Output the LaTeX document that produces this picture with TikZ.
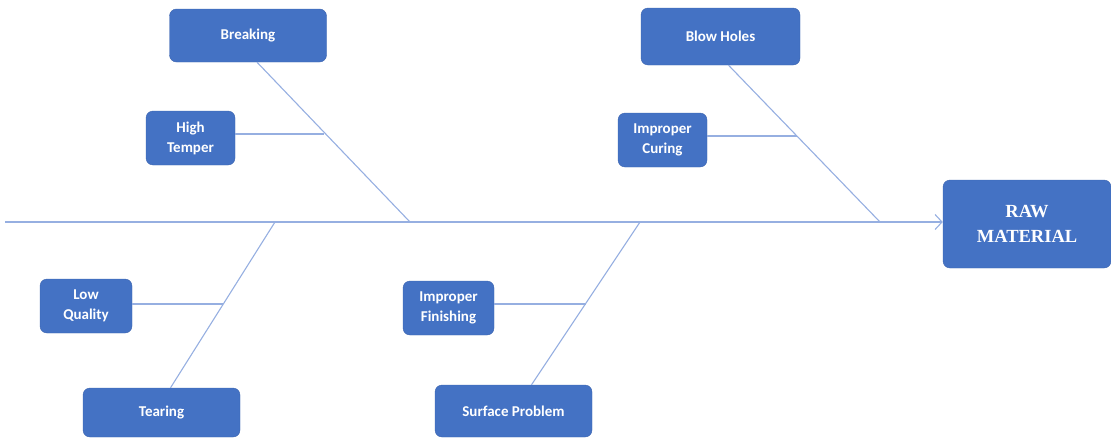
\documentclass[tikz,border=0pt]{standalone}
\usepackage{fontspec}
\setmainfont{Carlito}
\newfontfamily\rawfont{Liberation Serif}
\usetikzlibrary{arrows.meta}
\definecolor{boxblue}{RGB}{68,114,196}
\definecolor{boxedge}{RGB}{60,100,175}
\definecolor{bone}{RGB}{150,175,225}
\begin{document}
\begin{tikzpicture}[x=1pt,y=-1pt,
  cause/.style={draw=boxedge,fill=boxblue,rounded corners=7pt,text=white,
    font=\bfseries\fontsize{15}{20}\selectfont,align=center,inner sep=0pt},
  boneline/.style={draw=bone,line width=1.1pt}]
\useasboundingbox (0,0) rectangle (1111,439);
% boxes
\node[cause,minimum width=157pt,minimum height=53pt] (breaking) at (248,35.5) {Breaking};
\node[cause,minimum width=89pt,minimum height=54pt] (temper) at (190.5,138) {High\\Temper};
\node[cause,minimum width=159pt,minimum height=57pt] (blow) at (720.5,36.5) {Blow Holes};
\node[cause,minimum width=89pt,minimum height=54pt] (curing) at (662.5,140) {Improper\\Curing};
\node[cause,minimum width=168pt,minimum height=88pt,font=\rawfont\bfseries\fontsize{18.5}{25}\selectfont] (raw) at (1027,224) {RAW\\MATERIAL};
\node[cause,minimum width=92pt,minimum height=54pt] (lowq) at (86,306) {Low\\Quality};
\node[cause,minimum width=157pt,minimum height=49pt] (tearing) at (161.5,412.5) {Tearing};
\node[cause,minimum width=91pt,minimum height=54pt] (finish) at (448.5,308) {Improper\\Finishing};
\node[cause,minimum width=157pt,minimum height=52pt] (surface) at (513.5,411) {Surface Problem};
% spine coordinates
\coordinate (tail) at (5,222);
\coordinate (jBreak) at (410,222);
\coordinate (jBlow) at (880,222);
\coordinate (jTear) at (275,222);
\coordinate (jSurf) at (640,222);
% sub-bone joints
\coordinate (kTemper) at (324,134);
\coordinate (kCuring) at (797,136);
\coordinate (kLowq) at (223,304);
\coordinate (kFinish) at (586,304);
% spine
\draw[boneline,-{Straight Barb[length=7pt,width=15pt]}] (tail) -- (raw.west |- tail);
% main bones
\draw[boneline] ([xshift=9pt]breaking.south) -- (jBreak);
\draw[boneline] ([xshift=8pt]blow.south) -- (jBlow);
\draw[boneline] (jTear) -- ([xshift=9pt]tearing.north);
\draw[boneline] (jSurf) -- ([xshift=18pt]surface.north);
% sub bones
\draw[boneline] (kTemper -| temper.east) -- (kTemper);
\draw[boneline] (kCuring -| curing.east) -- (kCuring);
\draw[boneline] (kLowq -| lowq.east) -- (kLowq);
\draw[boneline] (kFinish -| finish.east) -- (kFinish);
\end{tikzpicture}
\end{document}
